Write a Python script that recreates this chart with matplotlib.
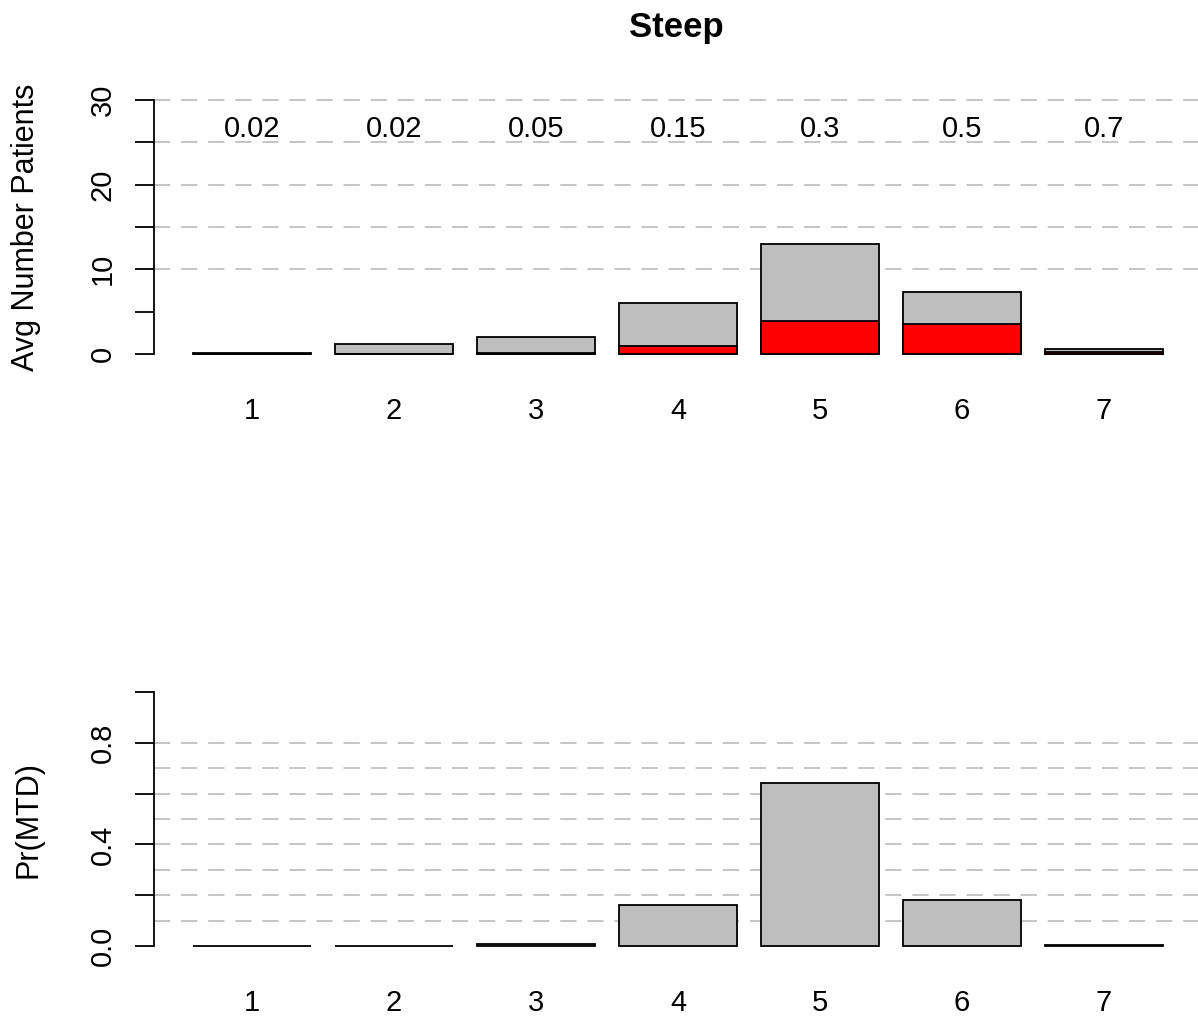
import numpy as np
import matplotlib.pyplot as plt

plt.rcParams['font.family'] = ['Liberation Sans', 'DejaVu Sans']

# dose levels and true toxicity probabilities of the "Steep" scenario
doses = [1, 2, 3, 4, 5, 6, 7]
true_tox = ['0.02', '0.02', '0.05', '0.15', '0.3', '0.5', '0.7']

# average number of patients per dose and average number of DLTs
avg_patients = [0.1, 1.2, 2.0, 6.0, 13.0, 7.3, 0.55]
avg_dlts = [0.0, 0.0, 0.1, 0.95, 3.9, 3.55, 0.25]

# probability of selecting each dose as MTD
pr_mtd = [0.0, 0.0, 0.006, 0.163, 0.642, 0.181, 0.002]

W, H = 1198, 1016
fig = plt.figure(figsize=(W / 100, H / 100), dpi=100)

GREY = '#bebebe'
GRID = '#c0c0c0'
FS = 21
bar_w = 1 / 1.2
xlim = (0.31, 7.662)
x = np.array(doses)


def px_axes(top_px, bottom_px, ylo, yhi, pad):
    # place axes so that ylo sits at bottom_px and yhi at top_px (image pixels)
    per = (bottom_px - top_px) / (yhi - ylo)
    lo = ylo - pad
    hi = yhi + pad
    b = H - (bottom_px + pad * per)
    h = (hi - lo) * per
    ax = fig.add_axes([154 / W, b / H, (W - 154) / W, h / H])
    ax.set_ylim(lo, hi)
    ax.set_xlim(*xlim)
    return ax


def style(ax, ylo, yhi, ticks, labels, grid):
    for s in ['top', 'right', 'bottom']:
        ax.spines[s].set_visible(False)
    ax.spines['left'].set_bounds(ylo, yhi)
    ax.spines['left'].set_linewidth(1.3)
    for g in grid:
        ax.axhline(g, color=GRID, lw=1.3, ls=(0, (9, 6)), zorder=0)
    ax.set_yticks(ticks)
    ax.set_yticklabels(labels, rotation=90, va='center', fontsize=FS)
    ax.tick_params(axis='y', length=14, width=1.3, pad=13)
    ax.set_xticks(x)
    ax.set_xticklabels([str(d) for d in doses], fontsize=FS)
    ax.tick_params(axis='x', length=0, pad=24)


# top panel: patients treated, with DLTs in red
ax1 = px_axes(100, 354, 0, 30, 1.2)
ax1.bar(x, avg_patients, width=bar_w, color=GREY, edgecolor='black', lw=1.3, zorder=2)
ax1.bar(x, avg_dlts, width=bar_w, color='red', edgecolor='black', lw=1.3, zorder=3)
style(ax1, 0, 30, np.arange(0, 31, 5),
      ['0', '', '10', '', '20', '', '30'], [10, 15, 20, 25, 30])
for xi, t in zip(x, true_tox):
    ax1.text(xi, 25.6, t, ha='center', va='baseline', fontsize=FS)

# bottom panel: probability of MTD selection
ax2 = px_axes(692, 946, 0, 1, 0.04)
ax2.bar(x, pr_mtd, width=bar_w, color=GREY, edgecolor='black', lw=1.3, zorder=2)
style(ax2, 0, 1, np.arange(0, 1.01, 0.2),
      ['0.0', '', '0.4', '', '0.8', ''], np.arange(0.1, 0.81, 0.1))

fig.text(676 / W, 1 - 27 / H, 'Steep', ha='center', va='center',
         fontsize=25, fontweight='bold')
fig.text(26 / W, 1 - 227 / H, 'Avg Number Patients', rotation=90,
         ha='center', va='center', fontsize=22)
fig.text(28 / W, 1 - 820 / H, 'Pr(MTD)', rotation=90,
         ha='center', va='center', fontsize=22)

fig.savefig('out.png', dpi=100)
